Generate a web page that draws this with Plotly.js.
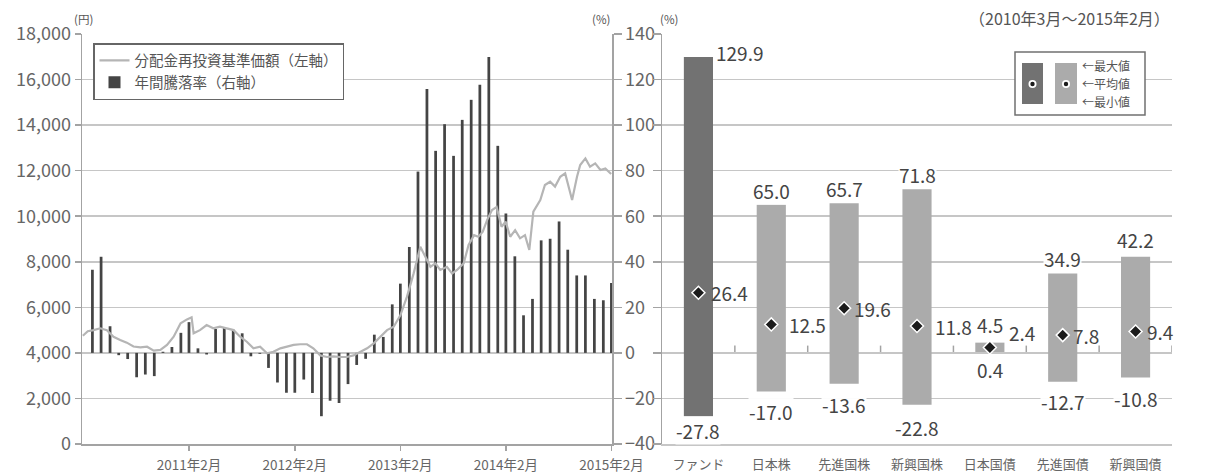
<!DOCTYPE html>
<html>
<head>
<meta charset="utf-8">
<script src="https://cdn.plot.ly/plotly-3.0.1.min.js"></script>
<style>
  html, body { margin: 0; padding: 0; background: #ffffff; }
  #chart { width: 1222px; height: 473px; }
</style>
</head>
<body>
<div id="chart"></div>
<script>
// ---------------- DATA ----------------
// Left panel: monthly annual return (%) from 2010-03 to 2015-02 (right axis)
const annualReturn = [
  36.5, 42.2, 11.7, -1.0, -2.7, -10.7, -9.5, -10.2, 0.5, 2.6, 8.8, 13.5,
  2.0, -0.7, 10.5, 11.0, 10.2, 8.6, -1.5, -0.4, -6.6, -13.0, -17.5, -17.5,
  -11.7, -17.6, -27.8, -21.0, -22.0, -13.7, -5.3, -2.6, 8.0, 7.0, 21.3, 30.4,
  46.5, 79.6, 115.9, 88.7, 100.4, 86.5, 102.3, 111.1, 117.7, 129.9, 90.9, 61.2,
  42.4, 16.5, 23.7, 49.4, 50.1, 57.7, 45.3, 34.0, 34.0, 23.7, 23.1, 30.7
];
const firstBarYear = 2010;
const firstBarMonth = 3;

// Left panel: NAV with dividends reinvested (yen, left axis)
const navDates = [
  '2010-02-26','2010-03-15','2010-04-04','2010-04-27','2010-05-20','2010-06-12','2010-07-05','2010-07-28',
  '2010-08-20','2010-09-13','2010-10-06','2010-10-29','2010-11-21','2010-12-14','2011-01-06','2011-01-30',
  '2011-02-21','2011-03-09','2011-03-16','2011-04-07','2011-04-30','2011-05-23','2011-06-15','2011-07-08',
  '2011-08-01','2011-08-24','2011-09-16','2011-10-09','2011-11-01','2011-11-25','2011-12-17','2012-01-10',
  '2012-02-02','2012-02-25','2012-03-19','2012-04-11','2012-05-03','2012-05-27','2012-06-19','2012-07-12',
  '2012-08-04','2012-08-27','2012-09-19','2012-10-13','2012-11-05','2012-11-28','2012-12-21','2013-01-13',
  '2013-02-05','2013-02-28','2013-03-23','2013-04-15','2013-05-08','2013-05-25','2013-06-12','2013-06-29',
  '2013-07-16','2013-08-08','2013-08-26','2013-09-12','2013-10-05','2013-10-22','2013-11-10','2013-11-25',
  '2013-12-10','2013-12-25','2014-01-11','2014-01-27','2014-02-13','2014-02-27','2014-03-15','2014-04-01',
  '2014-04-18','2014-05-05','2014-05-20','2014-06-03','2014-06-27','2014-07-13','2014-07-31','2014-08-17',
  '2014-09-04','2014-09-21','2014-10-15','2014-11-01','2014-11-12','2014-11-30','2014-12-16','2015-01-03',
  '2015-01-21','2015-02-07','2015-02-27'
];
const navValues = [
  4750, 4950, 5000, 5080, 5000, 4710, 4570, 4450,
  4280, 4240, 4270, 4100, 4130, 4350, 4710, 5300,
  5470, 5560, 4860, 5000, 5220, 5080, 5150, 5080,
  5000, 4710, 4490, 4200, 4270, 3980, 4050, 4200,
  4270, 4350, 4380, 4380, 4200, 3890, 3820, 3850,
  3820, 3820, 3890, 4050, 4200, 4420, 4710, 5000,
  5150, 5650, 6470, 7490, 8660, 8220, 7780, 7930,
  7640, 7780, 7490, 7640, 7930, 8740, 9170, 9100,
  9320, 9830, 10270, 10400, 9540, 9760, 9100, 9390,
  9030, 9170, 8520, 10200, 10710, 11370, 11515, 11300,
  11730, 11880, 10710, 11730, 12250, 12540, 12170, 12320,
  12030, 12100, 11850
];
const dateTickVals = ['2011-02-28','2012-02-29','2013-02-28','2014-02-28','2015-02-28'];
const dateTickText = ['2011年2月','2012年2月','2013年2月','2014年2月','2015年2月'];

// Right panel: range of annual returns (2010年3月～2015年2月)
const categories = ['ファンド','日本株','先進国株','新興国株','日本国債','先進国債','新興国債'];
const maxVals  = [129.9, 65.0, 65.7, 71.8, 4.5, 34.9, 42.2];
const minVals  = [-27.8, -17.0, -13.6, -22.8, 0.4, -12.7, -10.8];
const meanVals = [26.4, 12.5, 19.6, 11.8, 2.4, 7.8, 9.4];

const legendLine = '分配金再投資基準価額（左軸）';
const legendBar = '年間騰落率（右軸）';
const periodText = '（2010年3月～2015年2月）';
const keyLabels = ['←最大値', '←平均値', '←最小値'];

// ---------------- STYLE ----------------
const FONT = '"Noto Sans CJK JP", "Noto Sans", sans-serif';
const TXT = '#555555';
const GRID = '#c6c6c6';
const AX = '#a3a3a3';
const W = 1222, H = 473;
const M = {l: 82, r: 50, t: 34, b: 29};
const PW = W - M.l - M.r, PH = H - M.t - M.b;
const px = x => (x - M.l) / PW;
const py = y => (H - M.b - y) / PH;

// label placement tweaks (style only)
const maxLab = [
  {xa: 'left', dx: 17, ya: 'middle', dy: 5},
  {xa: 'center', dx: 0, ya: 'bottom', dy: 0},
  {xa: 'center', dx: 0, ya: 'bottom', dy: 0},
  {xa: 'center', dx: 0, ya: 'bottom', dy: 0},
  {xa: 'center', dx: 0, ya: 'bottom', dy: 4},
  {xa: 'center', dx: 0, ya: 'bottom', dy: 0},
  {xa: 'center', dx: 0, ya: 'bottom', dy: 3}
];
const minDy = [0, -5, -6, -8, -3, -5, -7];
const meanDx = [11, 16, 8, 16, 17, 8, 9];
const meanDy = [0, 0, 0, 0, 15, 0, 0];
const barColors = categories.map((c, i) => i === 0 ? '#727272' : '#ababab');

// month-end dates for bars
const barDates = annualReturn.map((_, i) =>
  new Date(Date.UTC(firstBarYear, firstBarMonth - 1 + i + 1, 0)).toISOString().slice(0, 10));

const traces = [
  {
    type: 'scatter', mode: 'lines', name: legendLine,
    x: navDates, y: navValues, xaxis: 'x', yaxis: 'y2',
    line: {color: '#b5b5b5', width: 2.2}, hoverinfo: 'skip'
  },
  {
    type: 'bar', name: legendBar,
    x: barDates, y: annualReturn, xaxis: 'x', yaxis: 'y',
    width: 9.5 * 86400000,
    marker: {color: '#444444', line: {width: 0}}, hoverinfo: 'skip'
  },
  {
    type: 'bar', showlegend: false,
    x: categories, y: maxVals.map((v, i) => v - minVals[i]), base: minVals,
    xaxis: 'x2', yaxis: 'y3', width: 0.4,
    marker: {color: barColors, line: {width: 0}}, hoverinfo: 'skip'
  },
  {
    type: 'scatter', mode: 'markers', showlegend: false,
    x: categories, y: meanVals, xaxis: 'x2', yaxis: 'y3',
    marker: {symbol: 'diamond', size: 10, color: '#1b1b1b', line: {color: '#ffffff', width: 1.5}},
    cliponaxis: false, hoverinfo: 'skip'
  }
];

const annotations = [];
const labFont = {family: FONT, size: 19, color: '#444444'};
categories.forEach((c, i) => {
  const m = maxLab[i];
  annotations.push({
    xref: 'x2', yref: 'y3', x: c, y: maxVals[i], text: maxVals[i].toFixed(1),
    showarrow: false, xanchor: m.xa, yanchor: m.ya, xshift: m.dx, yshift: m.dy,
    font: labFont, bgcolor: 'rgba(255,255,255,0.95)', borderpad: 0
  });
  annotations.push({
    xref: 'x2', yref: 'y3', x: c, y: minVals[i], text: minVals[i].toFixed(1),
    showarrow: false, xanchor: 'center', yanchor: 'top', yshift: minDy[i],
    font: labFont, bgcolor: 'rgba(255,255,255,0.95)', borderpad: 0
  });
  annotations.push({
    xref: 'x2', yref: 'y3', x: c, y: meanVals[i], text: meanVals[i].toFixed(1),
    showarrow: false, xanchor: 'left', yanchor: 'middle', xshift: meanDx[i], yshift: meanDy[i],
    font: labFont
  });
});
// units & period
const unitFont = {family: FONT, size: 11.5, color: TXT};
annotations.push({xref: 'paper', yref: 'paper', x: px(72), y: py(19), text: '(円)', showarrow: false, xanchor: 'left', yanchor: 'middle', font: unitFont});
annotations.push({xref: 'paper', yref: 'paper', x: px(612), y: py(19), text: '(%)', showarrow: false, xanchor: 'right', yanchor: 'middle', font: unitFont});
annotations.push({xref: 'paper', yref: 'paper', x: px(658), y: py(19), text: '(%)', showarrow: false, xanchor: 'left', yanchor: 'middle', font: unitFont});
annotations.push({xref: 'paper', yref: 'paper', x: px(1172), y: py(18), text: periodText, showarrow: false, xanchor: 'right', yanchor: 'middle', font: {family: FONT, size: 16, color: TXT}});
// key labels
const keyY = [66, 83.5, 101];
keyLabels.forEach((t, i) => annotations.push({
  xref: 'paper', yref: 'paper', x: px(1081), y: py(keyY[i]), text: t, showarrow: false,
  xanchor: 'left', yanchor: 'middle', font: {family: FONT, size: 12, color: TXT}, borderpad: 0
}));

const shapes = [];
// ticks on the zero line of the right panel at category boundaries
categories.forEach((c, i) => shapes.push({
  type: 'line', xref: 'x2', yref: 'y3', x0: i + 0.5, x1: i + 0.5, y0: 0, y1: 3.2,
  line: {color: AX, width: 1.5}, layer: 'below'
}));
// key box
shapes.push({type: 'rect', xref: 'paper', yref: 'paper', x0: px(1015), x1: px(1145), y0: py(115), y1: py(52),
  line: {color: '#707070', width: 1.5}, fillcolor: '#ffffff'});
shapes.push({type: 'rect', xref: 'paper', yref: 'paper', x0: px(1022), x1: px(1043), y0: py(104), y1: py(63),
  line: {width: 0}, fillcolor: barColors[0]});
shapes.push({type: 'rect', xref: 'paper', yref: 'paper', x0: px(1055), x1: px(1077), y0: py(104), y1: py(63),
  line: {width: 0}, fillcolor: barColors[1]});
[1032.5, 1066].forEach(cx => {
  shapes.push({type: 'circle', xref: 'paper', yref: 'paper', xsizemode: 'pixel', ysizemode: 'pixel',
    xanchor: px(cx), yanchor: py(84), x0: -4, x1: 4, y0: -4, y1: 4, line: {width: 0}, fillcolor: '#ffffff'});
  shapes.push({type: 'circle', xref: 'paper', yref: 'paper', xsizemode: 'pixel', ysizemode: 'pixel',
    xanchor: px(cx), yanchor: py(84), x0: -2.2, x1: 2.2, y0: -2.2, y1: 2.2, line: {width: 0}, fillcolor: '#1b1b1b'});
});

const tickFontBig = {family: FONT, size: 18, color: '#666666'};
const layout = {
  width: W, height: H,
  margin: M,
  paper_bgcolor: '#ffffff', plot_bgcolor: 'rgba(0,0,0,0)',
  font: {family: FONT, color: TXT},
  showlegend: true,
  legend: {
    x: px(93), y: py(43), xanchor: 'left', yanchor: 'top',
    bgcolor: '#ffffff', bordercolor: '#666666', borderwidth: 1.5,
    font: {family: FONT, size: 14.5, color: TXT}, tracegroupgap: 0, itemwidth: 30
  },
  xaxis: {
    domain: [0, px(612)], anchor: 'y', type: 'date',
    range: ['2010-02-23', '2015-03-02'],
    tickmode: 'array', tickvals: dateTickVals, ticktext: dateTickText,
    ticks: 'outside', ticklen: 5, tickcolor: AX, tickwidth: 1.5,
    showline: true, linecolor: AX, linewidth: 1.5, showgrid: false, zeroline: false,
    tickfont: {family: FONT, size: 13.5, color: '#666666'}, ticklabelstandoff: 3, fixedrange: true
  },
  yaxis: {
    domain: [0, 1], anchor: 'x', side: 'right', range: [-40, 140], dtick: 20, tick0: 0,
    showgrid: true, gridcolor: GRID, gridwidth: 1.5, zeroline: false,
    showline: true, linecolor: AX, linewidth: 1.5,
    ticks: 'outside', ticklen: 8, tickcolor: AX, tickwidth: 1.5,
    tickfont: tickFontBig, fixedrange: true
  },
  yaxis2: {
    overlaying: 'y', anchor: 'x', side: 'left', range: [0, 18000], dtick: 2000, tick0: 0,
    tickformat: ',d', showgrid: false, zeroline: false,
    showline: true, linecolor: AX, linewidth: 1.5,
    ticks: 'outside', ticklen: 6, tickcolor: AX, tickwidth: 1.5,
    tickfont: tickFontBig, fixedrange: true
  },
  xaxis2: {
    domain: [px(662), 1], anchor: 'y3', type: 'category', range: [-0.5, 6.5],
    showline: true, linecolor: GRID, linewidth: 1.5, showgrid: false, zeroline: false,
    ticks: '', tickfont: {family: FONT, size: 13, color: '#666666'}, ticklabelstandoff: 8, fixedrange: true
  },
  yaxis3: {
    domain: [0, 1], anchor: 'x2', range: [-40, 140], dtick: 20, tick0: 0,
    showgrid: true, gridcolor: GRID, gridwidth: 1.5, zeroline: false,
    showline: true, linecolor: AX, linewidth: 1.5,
    ticks: 'outside', ticklen: 8, tickcolor: AX, tickwidth: 1.5,
    showticklabels: false, fixedrange: true
  },
  annotations: annotations,
  shapes: shapes
};

Plotly.newPlot('chart', traces, layout, {staticPlot: true, displayModeBar: false});
</script>
</body>
</html>
